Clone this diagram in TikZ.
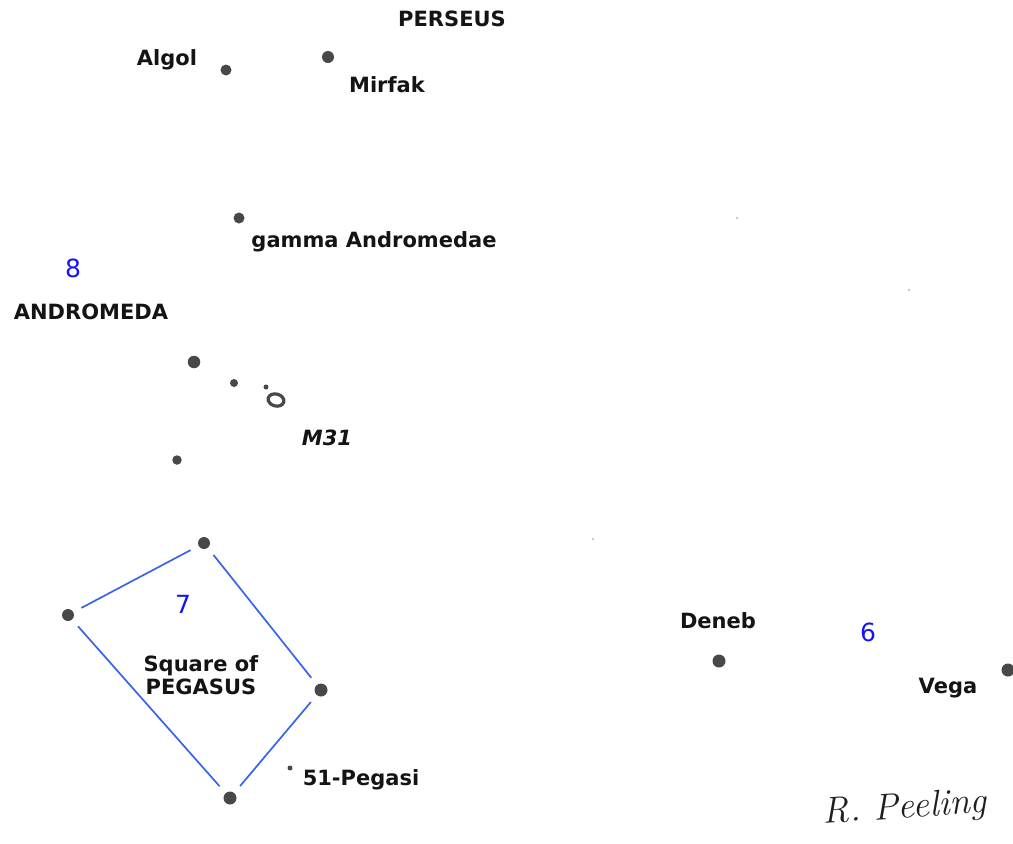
\documentclass[tikz,border=0pt]{standalone}
\usepackage{fontspec}
\setmainfont{DejaVu Sans}
\usetikzlibrary{shapes.geometric}
\definecolor{starink}{RGB}{72,72,72}
\definecolor{faintink}{RGB}{190,190,190}
\definecolor{lineblue}{RGB}{55,100,235}
\definecolor{numblue}{RGB}{20,20,245}
\tikzset{
  star/.style={circle, fill=starink, inner sep=0pt, minimum size=#1},
  star/.default=11pt,
  faint/.style={circle, fill=faintink, inner sep=0pt, minimum size=2.5pt},
  lbl/.style={font=\fontsize{21}{23.5}\selectfont\bfseries, inner sep=0pt, text=black!92},
  num/.style={font=\fontsize{25}{28}\selectfont, text=numblue, inner sep=0pt},
  link/.style={draw=lineblue, line width=1.7pt, shorten >=9pt, shorten <=9pt}
}
\begin{document}
\begin{tikzpicture}[x=1pt, y=-1pt]
\useasboundingbox (0,0) rectangle (1013,844);
\fill[white] (0,0) rectangle (1013,844);

% Perseus
\node[star=11pt] (algol) at (226,70) {};
\node[star=12pt] (mirfak) at (328,57) {};
\node[lbl] (perseus) at (452,19) {PERSEUS};
\node[lbl] (algolL) at (167,60) {Algol};
\node[lbl] (mirfakL) at (387,85) {Mirfak};

% Andromeda
\node[star=11pt] (gamma) at (239,218) {};
\node[lbl] (gammaL) at (374,242) {gamma Andromedae};
\node[num] (n8) at (73,268) {8};
\node[lbl] (andL) at (91,312) {ANDROMEDA};
\node[star=12.5pt] (mirach) at (194,362) {};
\node[star=8pt] (nu) at (234,383) {};
\node[star=5pt] (mu) at (266,387) {};
\node[ellipse, draw=starink, line width=3.2pt, minimum width=16pt, minimum height=12pt, inner sep=0pt, rotate=-15] (m31) at (276,400) {};
\node[lbl, font=\fontsize{21}{23.5}\selectfont\bfseries\itshape] (m31L) at (327,438) {M31};
\node[star=9.5pt] (delta) at (177,460) {};

% Square of Pegasus
\node[star=12pt] (alpheratz) at (204,543) {};
\node[star=12pt] (algenib) at (68,615) {};
\node[star=13pt] (scheat) at (321,690) {};
\node[star=13pt] (markab) at (230,798) {};
\draw[link] (alpheratz) -- (algenib);
\draw[link] (algenib) -- (markab);
\draw[link] (markab) -- (scheat);
\draw[link] (scheat) -- (alpheratz);
\node[num] (n7) at (183,604) {7};
\node[lbl, align=center] (sqL) at (201,675) {Square of\\PEGASUS};
\node[star=5pt] (peg51) at (290,768) {};
\node[lbl] (peg51L) at (361,780) {51-Pegasi};

% Summer triangle stars
\node[star=13pt] (deneb) at (719,661) {};
\node[lbl] (denebL) at (718,621) {Deneb};
\node[num] (n6) at (868,632) {6};
\node[star=13pt] (vega) at (1008,670) {};
\node[lbl] (vegaL) at (948,688) {Vega};

% faint background stars
\node[faint] (f1) at (737,218) {};
\node[faint] (f2) at (909,290) {};
\node[faint] (f3) at (593,539) {};

% signature
\node[font=\fontfamily{lmr}\fontsize{37}{39}\selectfont\itshape, text=black!88, inner sep=0pt, rotate=4] (sig) at (905,809) {R. Peeling};
\end{tikzpicture}
\end{document}
